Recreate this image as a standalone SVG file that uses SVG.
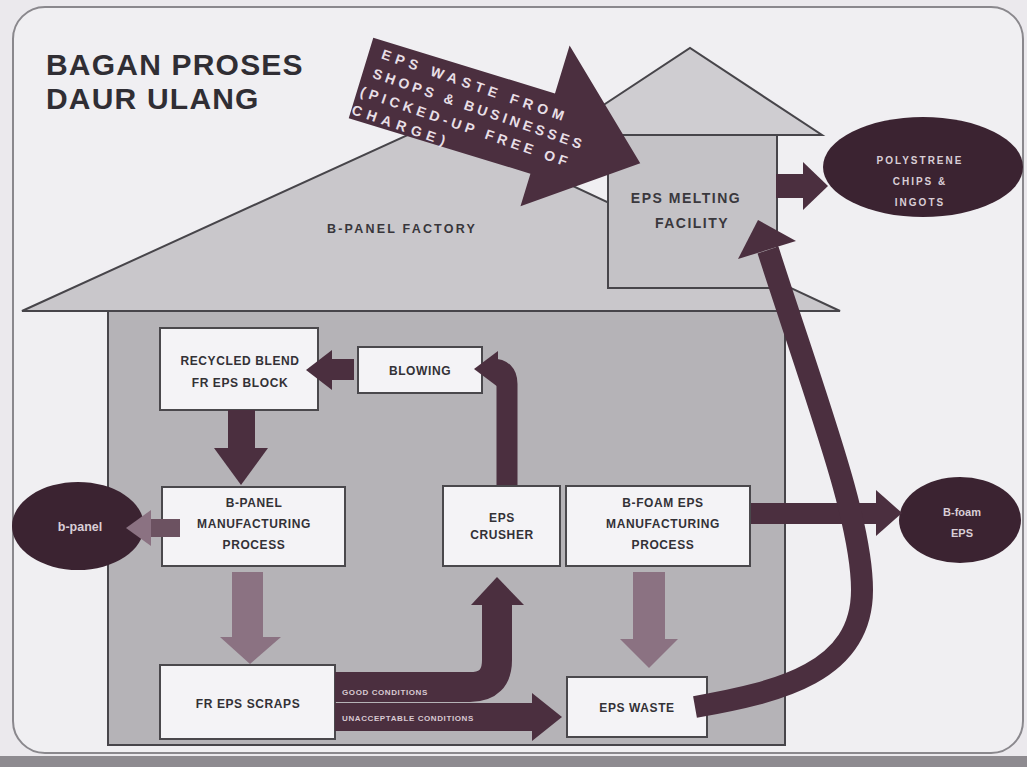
<svg xmlns="http://www.w3.org/2000/svg" width="1027" height="767" viewBox="0 0 1027 767">
<defs>
<style>
.wall{stroke:#47454a;stroke-width:2;stroke-linejoin:miter}
.box{fill:#f4f3f6;stroke:#4a484c;stroke-width:2}
.bt{font-family:"Liberation Sans",Arial,sans-serif;font-weight:bold;font-size:12px;fill:#333136;text-anchor:middle;letter-spacing:0.6px}
.ell{fill:#3b2331}
.et{font-family:"Liberation Sans",Arial,sans-serif;font-weight:bold;fill:#d9ced6;text-anchor:middle}
.dark{fill:#4b2f3f}
.darks{fill:none;stroke:#4b2f3f}
.light{fill:#8b7282}
.lbl{font-family:"Liberation Sans",Arial,sans-serif;font-weight:bold;font-size:8px;fill:#d8c9d2;letter-spacing:0.6px}
.at{font-family:"Liberation Sans",Arial,sans-serif;font-weight:bold;font-size:14px;fill:#e8dfe6}
</style>
</defs>
<rect x="0" y="0" width="1027" height="767" fill="#ebe9ed"/>
<rect x="0" y="756" width="1027" height="11" fill="#8e8b90"/>
<rect x="13" y="7" width="1010" height="746" rx="32" fill="#f0eff2" stroke="#8a888d" stroke-width="2"/>

<text x="46" y="75" font-family="'Liberation Sans',Arial,sans-serif" font-weight="bold" font-size="30" fill="#302e34" letter-spacing="1.2">BAGAN PROSES</text>
<text x="46" y="109" font-family="'Liberation Sans',Arial,sans-serif" font-weight="bold" font-size="30" fill="#302e34" letter-spacing="1.2">DAUR ULANG</text>

<g id="bpanel-factory">
<polygon class="wall" points="22,311 436,122 840,311" fill="#c9c7cb"/>
<rect class="wall" x="108" y="311" width="677" height="434" fill="#b5b3b7"/>
<text x="402" y="233" font-family="'Liberation Sans',Arial,sans-serif" font-weight="bold" font-size="12.5" fill="#38363b" text-anchor="middle" letter-spacing="2.2">B-PANEL  FACTORY</text>
</g>

<g id="eps-melting-facility">
<polygon class="wall" points="558,135 690,48 822,135" fill="#cfcdd1"/>
<rect class="wall" x="608" y="135" width="169" height="153" fill="#c4c2c6"/>
<text x="686" y="203" font-family="'Liberation Sans',Arial,sans-serif" font-weight="bold" font-size="14" fill="#3a383d" text-anchor="middle" letter-spacing="1.5">EPS MELTING</text>
<text x="692" y="228" font-family="'Liberation Sans',Arial,sans-serif" font-weight="bold" font-size="14" fill="#3a383d" text-anchor="middle" letter-spacing="1.5">FACILITY</text>
</g>

<g id="recycled-blend">
<rect class="box" x="160" y="328" width="158" height="82"/>
<text class="bt" x="240" y="365">RECYCLED BLEND</text>
<text class="bt" x="240" y="387">FR EPS BLOCK</text>
</g>
<g id="blowing">
<rect class="box" x="358" y="347" width="124" height="46"/>
<text class="bt" x="420" y="375" font-size="12.5" letter-spacing="1.3">BLOWING</text>
</g>
<g id="bpanel-manufacturing">
<rect class="box" x="162" y="487" width="183" height="79"/>
<text class="bt" x="254" y="507">B-PANEL</text>
<text class="bt" x="254" y="528">MANUFACTURING</text>
<text class="bt" x="254" y="549">PROCESS</text>
</g>
<g id="eps-crusher">
<rect class="box" x="443" y="486" width="117" height="80"/>
<text class="bt" x="502" y="522">EPS</text>
<text class="bt" x="502" y="539">CRUSHER</text>
</g>
<g id="bfoam-manufacturing">
<rect class="box" x="566" y="486" width="184" height="80"/>
<text class="bt" x="663" y="507">B-FOAM  EPS</text>
<text class="bt" x="663" y="528">MANUFACTURING</text>
<text class="bt" x="663" y="549">PROCESS</text>
</g>
<g id="fr-eps-scraps">
<rect class="box" x="160" y="665" width="175" height="74"/>
<text class="bt" x="248" y="708">FR EPS SCRAPS</text>
</g>
<g id="eps-waste">
<rect class="box" x="567" y="677" width="140" height="60"/>
<text class="bt" x="637" y="712">EPS WASTE</text>
</g>

<g id="polystrene-chips">
<ellipse class="ell" cx="923" cy="167" rx="100" ry="50"/>
<text class="et" x="920" y="164" font-size="10" letter-spacing="2">POLYSTRENE</text>
<text class="et" x="920" y="185" font-size="10" letter-spacing="2">CHIPS &amp;</text>
<text class="et" x="920" y="206" font-size="10" letter-spacing="2">INGOTS</text>
</g>
<g id="b-panel-product">
<ellipse class="ell" cx="78" cy="526" rx="66" ry="44"/>
<text class="et" x="80" y="531" font-size="12.5">b-panel</text>
</g>
<g id="b-foam-product">
<ellipse class="ell" cx="960" cy="520" rx="61" ry="43"/>
<text class="et" x="962" y="516" font-size="11">B-foam</text>
<text class="et" x="962" y="537" font-size="11">EPS</text>
</g>

<g id="connectors">
<!-- EPS waste from shops -->
<g transform="translate(361,78) rotate(17)">
<polygon class="dark" points="0,-42 190,-42 190,-92 292,0 190,76 190,42 0,42"/>
<g transform="rotate(2)">
<text class="at" x="12" y="-25" textLength="192">EPS WASTE FROM</text>
<text class="at" x="10" y="-4" textLength="220">SHOPS &amp; BUSINESSES</text>
<text class="at" x="4" y="17" textLength="218">(PICKED-UP FREE OF</text>
<text class="at" x="2" y="37" textLength="98">CHARGE)</text>
</g>
</g>
<!-- melting -> polystrene -->
<rect class="dark" x="776" y="174" width="28" height="24"/>
<polygon class="dark" points="803,162 828,186 803,210"/>
<!-- blowing -> recycled -->
<rect class="dark" x="330" y="359" width="24" height="21"/>
<polygon class="dark" points="332,350 306,370 332,390"/>
<!-- crusher -> blowing -->
<path class="darks" stroke-width="21" d="M507 485 V384 Q507 369 492 369"/>
<polygon class="dark" points="498,351 474,369 498,387"/>
<!-- recycled -> b-panel manufacturing -->
<rect class="dark" x="228" y="410" width="27" height="40"/>
<polygon class="dark" points="214,448 241,485 268,448"/>
<!-- b-panel manufacturing -> b-panel -->
<rect fill="#6c5261" x="148" y="519" width="32" height="18"/>
<polygon class="light" points="151,510 126,528 151,546"/>
<!-- b-panel manufacturing -> scraps -->
<rect class="light" x="232" y="572" width="31" height="67"/>
<polygon class="light" points="220,637 250,664 281,637"/>
<!-- b-foam manufacturing -> eps waste -->
<rect class="light" x="633" y="572" width="32" height="68"/>
<polygon class="light" points="620,639 649,668 678,639"/>
<!-- b-foam manufacturing -> b-foam EPS -->
<rect class="dark" x="751" y="503" width="127" height="21"/>
<polygon class="dark" points="876,490 902,513 876,536"/>
<!-- scraps -> crusher (good conditions) -->
<path class="darks" stroke-width="30" d="M335 687 H470 Q497 687 497 660 V602"/>
<polygon class="dark" points="471,605 497,577 524,605"/>
<!-- scraps -> eps waste (unacceptable conditions) -->
<rect class="dark" x="335" y="703" width="199" height="28"/>
<polygon class="dark" points="532,693 562,717 532,741"/>
<text class="lbl" x="342" y="695">GOOD CONDITIONS</text>
<text class="lbl" x="342" y="721">UNACCEPTABLE CONDITIONS</text>
<!-- eps waste -> melting facility -->
<path class="darks" stroke-width="22" d="M695 707 C780 692 862 672 862 590 C862 520 818 405 768 250"/>
<polygon class="dark" points="738,259 758,220 796,241"/>
</g>
</svg>
